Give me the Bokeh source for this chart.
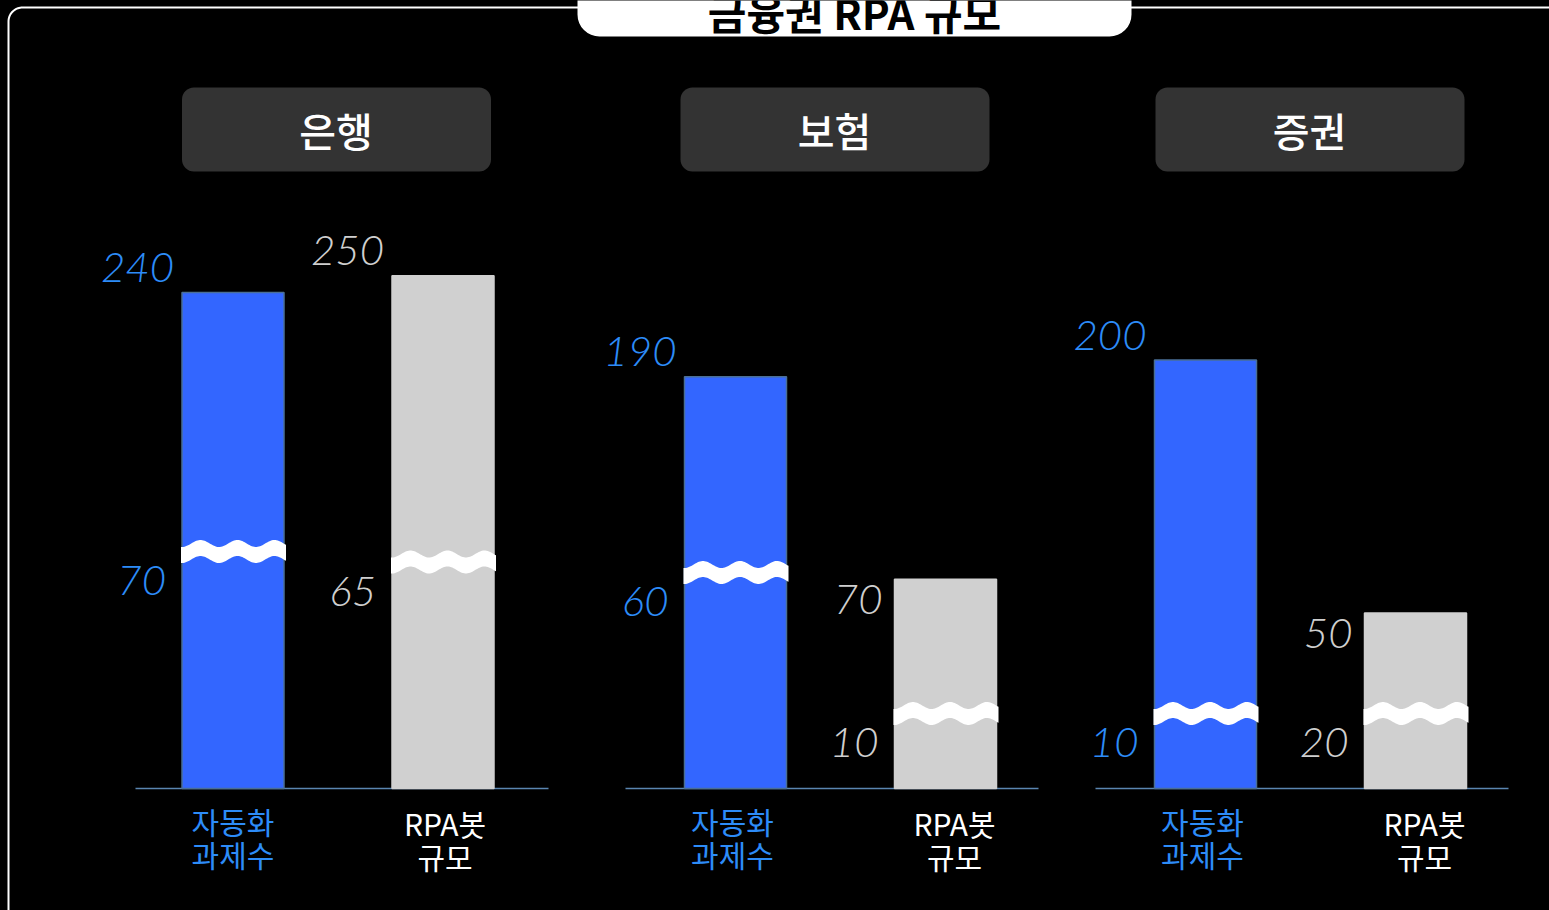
import numpy as np
from bokeh.plotting import figure
from bokeh.models import Range1d
from bokeh.embed import file_html
from bokeh.resources import INLINE
from bokeh.core.properties import value

# ---------------- data ----------------
title_text = "금융권 RPA 규모"
panels = ["은행", "보험", "증권"]
categories = ["자동화\n과제수", "RPA봇\n규모"]
task_values = [240, 190, 200]     # 자동화 과제수 (top of bar)
task_breaks = [70, 60, 10]        # value shown under the axis break
bot_values = [250, 70, 50]        # RPA봇 규모 (top of bar)
bot_breaks = [65, 10, 20]

# ---------------- layout / style ----------------
W, H = 1549, 910
BASE_PX = 788          # baseline, px from top of figure
K = 1.687              # px per value unit
V0 = -54.0             # value at the baseline (display floor)
panel_cx = [337.5, 840, 1310]
hdr_cx = [335.5, 834, 1309]
axis_x0 = [135, 625, 1095]
AXIS_LEN = 413
bar_off = [-105, 105]
BAR_W = 102
BLUE = "#3366ff"
GRAY = "#d0d0d0"
BLUE_TXT = "#2d8cf8"
GRAY_TXT = "#cfcfcf"
NUM_FONT = value("Lato Light, Lato, sans-serif")
KR_FONT = value("Noto Sans CJK KR")
KR_MED = value("Noto Sans CJK KR Medium, Noto Sans CJK KR")


def break_height(b):
    # px above the baseline at which the axis-break wave is drawn
    return 75.0 if b <= 20 else 90.0 + 2.1 * b


p = figure(width=W, height=H, x_range=Range1d(0, W), y_range=Range1d(H, 0),
           output_backend="svg", toolbar_location=None, min_border=0,
           x_axis_location=None, y_axis_location=None,
           background_fill_color="black", border_fill_color="black",
           outline_line_color=None)
p.grid.visible = False
p.extra_y_ranges = {"val": Range1d(V0 - (H - BASE_PX) / K, V0 + BASE_PX / K)}

# ---- outer frame (rounded top-left corner) ----
r = 14
ang = np.linspace(np.pi / 2, np.pi, 20)
fx = [W + 5] + list(8 + r + r * np.cos(ang)) + [8]
fy = [7] + list(7 + r - r * np.sin(ang)) + [H + 5]
p.line(fx, fy, line_color="white", line_width=2)

# ---- title pill ----
p.quad(left=[577], right=[1131], top=[-60], bottom=[36], fill_color="white",
       line_color=None, border_radius=22)
p.text(x=[854], y=[11], text=[title_text], text_font=KR_FONT, text_font_style="bold",
       text_font_size="42px", text_color="black", text_align="center",
       text_baseline="alphabetic")

# ---- panel headers ----
p.quad(left=[c - 154 for c in hdr_cx], right=[c + 155 for c in hdr_cx],
       top=[87] * 3, bottom=[171] * 3, fill_color="#333333", line_color=None,
       border_radius=12)
p.text(x=hdr_cx, y=[129] * 3, text=panels, text_font=KR_MED, text_font_size="40px",
       text_color="white", text_align="center", text_baseline="middle")

# ---- baselines ----
p.segment(x0=axis_x0, x1=[x + AXIS_LEN for x in axis_x0],
          y0=[V0] * 3, y1=[V0] * 3, y_range_name="val",
          line_color="#5a85b0", line_width=1.5)

series = [
    (task_values, task_breaks, 0, BLUE, "#4a6f96", BLUE_TXT, 820, [0, -3, -3]),
    (bot_values, bot_breaks, 1, GRAY, None, GRAY_TXT, 822, [2, 9, 9]),
]

for vals, brks, ci, fill, edge, tcol, cat_y, cat_dx in series:
    xs_c = [c + bar_off[ci] for c in panel_cx]
    p.vbar(x=xs_c, width=BAR_W, top=vals, bottom=V0, y_range_name="val",
           fill_color=fill, line_color=edge if edge else fill, line_width=1.5)

    wave_xs, wave_ys = [], []
    top_lx, top_ly, low_lx, low_ly = [], [], [], []
    top_short_x, top_short_y, top_short_t = [], [], []
    top_tall_t = []
    for xc, v, b in zip(xs_c, vals, brks):
        left, right = xc - BAR_W / 2, xc + BAR_W / 2
        vc = V0 + break_height(b) / K
        xx = np.linspace(left - 1, right + 2, 90)
        s = -np.cos(2 * np.pi * (xx - left) / 37.0)
        tv = vc + (8 + 3.5 * s) / K
        bv = vc + (-8 + 3.5 * s) / K
        wave_xs.append(list(xx) + list(xx[::-1]))
        wave_ys.append(list(tv) + list(bv[::-1]))
        if v >= 100:
            top_lx.append(left - 8)
            top_ly.append(v + 25 / K)
            top_tall_t.append(str(v))
        else:
            top_short_x.append(left - 12)
            top_short_y.append(v - 20 / K)
            top_short_t.append(str(v))
        low_lx.append(left - 16)
        low_ly.append(vc - 29 / K)
    p.patches(wave_xs, wave_ys, y_range_name="val", fill_color="white", line_color=None)

    lab_x = top_lx + top_short_x + low_lx
    lab_y = top_ly + top_short_y + low_ly
    lab_t = top_tall_t + top_short_t + [str(b) for b in brks]
    p.text(x=lab_x, y=lab_y, text=lab_t, y_range_name="val", text_font=NUM_FONT,
           text_font_style="italic", text_font_size="42px", text_color=tcol,
           text_align="right", text_baseline="alphabetic")

    lines = categories[ci].split("\n")
    for li, line in enumerate(lines):
        p.text(x=[x + d for x, d in zip(xs_c, cat_dx)], y=[cat_y + 33 * li] * 3,
               text=[line] * 3, text_font=KR_FONT,
               text_font_size="30px", text_color=(BLUE_TXT if ci == 0 else "white"),
               text_align="center", text_baseline="middle")

html = file_html(p, INLINE)
html = html.replace("<head>", "<head><style>body{background:#000;}</style>", 1)
open("out.html", "w").write(html)
